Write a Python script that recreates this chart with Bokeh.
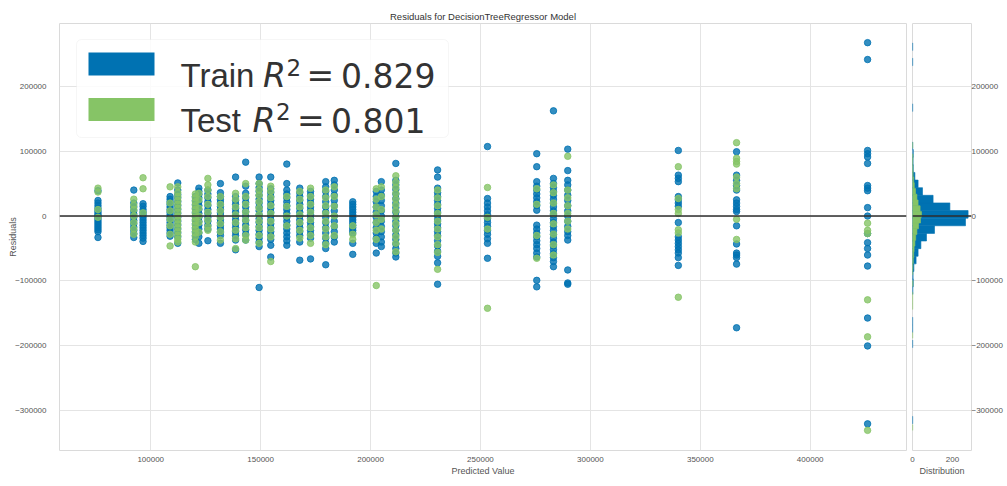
import numpy as np
from bokeh.plotting import figure
from bokeh.layouts import row
from bokeh.models import Range1d, Span, Label, BoxAnnotation, FixedTicker, CustomJSTickFormatter
from bokeh.embed import file_html
from bokeh.resources import INLINE

# ---------------- data ----------------
title_text = "Residuals for DecisionTreeRegressor Model"
x_label = "Predicted Value"
y_label = "Residuals"
hist_label = "Distribution"
train_r2 = "0.829"
test_r2 = "0.801"

# predicted values of the tree leaves (one column of points each)
pred_values = [76000, 92300, 96500, 108800, 112300, 120300, 121900, 126000, 131700,
               138600, 143200, 149300, 154600, 161900, 167800, 172700, 179600, 183500,
               191900, 202600, 204900, 211500, 230500, 253200, 275600, 283200, 289700,
               340000, 366500, 426100]

# residuals per column, in thousands
train_resid_k = [
    [39, 24, 20, 16, 12, 8, 5, 2, 0, -3, -6, -9, -12, -15, -18, -21, -24, -33],
    [40, 20, 14, 8, 3, -2, -7, -12, -17, -22, -27, -33],
    [19, 15, 10, 6, 2, -2, -6, -10, -14, -18, -22, -26, -30, -34, -39],
    [30, 26, 22, 18, 14, 10, 6, 2, -2, -6, -10, -14, -18, -22, -26, -31],
    [51, 40, 33, 28, 22, 16, 10, 4, -2, -8, -14, -20, -26, -32, -42],
    [30, 24, 18, 12, 6, 0, -6, -12, -18, -24, -30, -36],
    [43, 38, 33, 28, 22, 16, 10, 4, -2, -8, -14, -20, -26, -32, -42],
    [40, 34, 28, 22, 16, 10, 4, -2, -8, -14, -20, -38],
    [50, 36, 30, 25, 20, 15, 10, 5, 0, -5, -10, -15, -20, -25, -30, -42],
    [60, 30, 24, 18, 12, 6, 0, -6, -12, -18, -24, -30, -37, -52],
    [83, 46, 35, 28, 21, 14, 7, 0, -7, -14, -21, -28, -37],
    [60, 50, 44, 38, 32, 26, 20, 14, 8, 2, -4, -10, -16, -22, -28, -34, -40, -47, -110],
    [60, 42, 36, 30, 24, 18, 12, 6, 0, -6, -12, -18, -24, -30, -36, -45, -63],
    [80, 50, 40, 34, 28, 22, 16, 10, 4, -2, -8, -14, -20, -26, -32, -38, -45],
    [43, 36, 30, 24, 18, 12, 6, 0, -6, -12, -18, -24, -30, -40, -68],
    [38, 32, 26, 20, 14, 8, 2, -4, -10, -16, -22, -28, -34, -66],
    [53, 45, 38, 30, 22, 14, 6, -2, -10, -18, -26, -34, -42, -50, -75],
    [55, 48, 40, 32, 24, 16, 8, 0, -8, -16, -24, -32, -40],
    [22, 18, 14, 10, 6, 2, -2, -6, -10, -14, -18, -22, -26, -42, -59],
    [38, 30, 22, 14, 6, -2, -10, -18, -26, -34, -42, -57],
    [53, 40, 32, 24, 16, 8, 0, -8, -16, -24, -32, -40, -47],
    [81, 55, 48, 41, 34, 27, 20, 13, 6, -1, -8, -15, -22, -29, -36, -43, -50, -57, -63],
    [71, 60, 43, 36, 30, 24, 18, 12, 6, 0, -6, -12, -18, -24, -30, -38, -46, -54, -62, -72, -105],
    [107, 27, 20, 14, 8, 2, -4, -10, -16, -22, -28, -35, -42, -65],
    [96, 76, 53, 46, 40, 34, 28, 22, 16, 9, -14, -20, -26, -32, -38, -44, -50, -57, -63, -99, -109],
    [162, 58, 50, 44, 38, 32, 26, 20, 14, 8, 2, -4, -10, -16, -22, -28, -34, -40, -46, -52, -58, -64, -70, -78],
    [103, 70, 55, 48, 40, 32, 24, 16, 8, 0, -8, -16, -24, -30, -37, -83, -103, -105],
    [101, 63, 58, 53, 30, 25, 20, 15, -10, -32, -37, -42, -47, -52, -57, -64, -76],
    [99, 63, 55, 47, 40, 25, 20, 15, 10, 7, -15, -43, -57, -60, -64, -74, -172],
    [267, 241, 101, 96, 91, 81, 47, 43, 39, 13, 0, -27, -41, -50, -60, -77, -157, -200, -320],
]
test_resid_k = [
    [43, 37, 10, -2],
    [26, 17, 10, 0, -10, -20, -28],
    [59, 42, 5],
    [45, 20, 8, -5, -15, -28, -46],
    [45, 36, 30, 24, 18, 12, 6, 0, -6, -12, -18, -24, -30, -36, -40],
    [34, 28, 22, 16, 10, 4, -2, -8, -14, -20, -26, -32, -40, -78],
    [35, 25, 12, 0, -10, -25],
    [58, 48, 40, 30, 18, 6, -6, -16, -22],
    [30, 18, 8, -2, -12, -24, -37],
    [35, 26, 14, 2, -10, -22, -35, -50],
    [50, 30, 18, 6, -6, -18, -30, -37],
    [50, 40, 32, 22, 12, 2, -8, -18, -30, -42],
    [46, 38, 28, 16, 4, -8, -20, -32, -70],
    [30, 15, 0, -15],
    [38, 26, 14, 2, -10, -22, -34],
    [43, 30, 18, 6, -6, -18, -30, -42],
    [40, 28, 16, 4, -8, -20, -32, -44],
    [45, 30, 15, 0, -15, -30],
    [-15, -28, -36],
    [42, 26, 14, 2, -10, -22, -36, -107],
    [45, 30, 10, -5, -20],
    [62, 52, 44, 35, 26, 17, 8, -2, -12, -22, -32, -42, -55],
    [40, 28, 16, 4, -8, -20, -32, -44, -56, -82],
    [44, -2, -20, -142],
    [42, 18, -30, -65],
    [48, 36, 20, 4, -12, -28, -44, -60],
    [92, 40, 28, 16, 4, -8, -20],
    [76, 27, 10, 4, -21, -26, -125],
    [113, 89, 84, 80, 60, 50, 42, -5, -36],
    [-11, -22, -27, -129, -186, -330],
]

# histogram of residuals (50 bins over each set's range)
train_hist_range = (-320000, 266600)
train_hist_counts = [1, 0, 0, 0, 0, 0, 0, 0, 0, 0,
                     1, 0, 1, 1, 0, 0, 0, 2, 4, 3,
                     7, 18, 28, 42, 70, 110, 265, 278, 187, 103,
                     50, 28, 12, 4, 3, 4, 1, 0, 0, 0,
                     0, 1, 0, 0, 0, 0, 0, 1, 0, 1]
test_hist_range = (-330000, 113400)
test_hist_counts = [1, 0, 0, 0, 0, 0, 0, 0, 0, 0,
                    0, 0, 0, 0, 0, 0, 1, 0, 0, 0,
                    0, 1, 1, 1, 0, 2, 0, 1, 2, 4,
                    6, 8, 12, 16, 22, 30, 40, 45, 38, 28,
                    22, 15, 9, 6, 3, 2, 1, 2, 0, 1]

x_ticks = [100000, 150000, 200000, 250000, 300000, 350000, 400000]
y_ticks = [-300000, -200000, -100000, 0, 100000, 200000]
dist_ticks = [0, 200]

# ---------------- build ----------------
TRAIN = "#0072B2"
TEST = "#86C466"
TXT = "#555555"
FONT = "Liberation Sans"
MATH = "DejaVu Sans"

tx = np.concatenate([[v] * len(r) for v, r in zip(pred_values, train_resid_k)])
ty = np.concatenate([np.array(r, dtype=float) * 1000 for r in train_resid_k])
ex = np.concatenate([[v] * len(r) for v, r in zip(pred_values, test_resid_k)])
ey = np.concatenate([np.array(r, dtype=float) * 1000 for r in test_resid_k])

X0, X1 = 58500, 443800
Y0, Y1 = -361000, 296500
FX, FY, FW, FH = 59, 23, 847, 427

fmt = CustomJSTickFormatter(code="return tick < 0 ? '\\u2212' + Math.abs(tick).toFixed(0) : tick.toFixed(0);")

p = figure(frame_width=FW, frame_height=FH, x_range=Range1d(X0, X1), y_range=Range1d(Y0, Y1),
           output_backend="svg", toolbar_location=None, title=title_text,
           min_border_left=FX, min_border_right=2, min_border_top=FY, min_border_bottom=28)
p.title.align = "center"
p.title.text_font = FONT
p.title.text_font_size = "9.5px"
p.title.text_font_style = "normal"
p.title.text_color = "#333333"
p.title.standoff = 3

h = figure(frame_width=59, frame_height=FH, x_range=Range1d(0, 295), y_range=p.y_range,
           y_axis_location="right", output_backend="svg", toolbar_location=None,
           min_border_left=4, min_border_right=0, min_border_top=FY, min_border_bottom=28)

for fig in (p, h):
    fig.background_fill_color = "white"
    fig.border_fill_color = "white"
    fig.outline_line_color = "#dadada"
    fig.outline_line_width = 1
    fig.grid.grid_line_color = "#e4e4e4"
    fig.grid.grid_line_width = 1
    fig.axis.axis_line_color = None
    fig.axis.major_tick_line_color = None
    fig.axis.minor_tick_line_color = None
    fig.axis.major_label_text_font = FONT
    fig.axis.major_label_text_font_size = "8px"
    fig.axis.major_label_text_color = TXT
    fig.axis.axis_label_text_font = FONT
    fig.axis.axis_label_text_font_size = "9px"
    fig.axis.axis_label_text_font_style = "normal"
    fig.axis.axis_label_text_color = TXT
    fig.xaxis.major_label_standoff = 0
    fig.xaxis.axis_label_standoff = 1
    fig.yaxis.formatter = fmt
    fig.yaxis.ticker = FixedTicker(ticks=y_ticks)

p.xaxis.ticker = FixedTicker(ticks=x_ticks)
p.xaxis.formatter = fmt
p.xaxis.axis_label = x_label
p.yaxis.axis_label = y_label
p.yaxis.major_label_standoff = 7
p.yaxis.axis_label_standoff = -6

h.xaxis.ticker = FixedTicker(ticks=dist_ticks)
h.xaxis.axis_label = hist_label
h.xgrid.grid_line_color = None
h.yaxis.major_label_standoff = -6

# scatter: train then test
p.scatter(tx, ty, size=6.5, fill_color=TRAIN, line_color=TRAIN, fill_alpha=0.8, line_alpha=0.8)
p.scatter(ex, ey, size=6.5, fill_color=TEST, line_color=TEST, fill_alpha=0.8, line_alpha=0.8)

# histograms
def draw_hist(rng, counts, color):
    edges = np.linspace(rng[0], rng[1], len(counts) + 1)
    c = np.array(counts, dtype=float)
    m = c > 0
    h.quad(left=0, right=c[m], bottom=edges[:-1][m], top=edges[1:][m],
           fill_color=color, line_color=color, line_width=0.6)

draw_hist(train_hist_range, train_hist_counts, TRAIN)
draw_hist(test_hist_range, test_hist_counts, TEST)

for fig in (p, h):
    fig.add_layout(Span(location=0, dimension="width", line_color="#2e2e2e", line_width=1.6))

# legend (drawn by hand)
def dx(px):
    return X0 + (px - FX) / FW * (X1 - X0)

def dy(py):
    return Y1 - (py - FY) / FH * (Y1 - Y0)

p.add_layout(BoxAnnotation(left=dx(76), right=dx(448), top=dy(39), bottom=dy(137),
                           fill_color="white", fill_alpha=0.85, line_color="#e2e2e2",
                           line_width=1, border_radius=5))
p.add_layout(BoxAnnotation(left=dx(88), right=dx(154), top=dy(52), bottom=dy(75),
                           fill_color=TRAIN, fill_alpha=1, line_color=None))
p.add_layout(BoxAnnotation(left=dx(88), right=dx(154), top=dy(97.5), bottom=dy(120.5),
                           fill_color=TEST, fill_alpha=1, line_color=None))

def lab(px, py, text, font, size, style="normal"):
    p.add_layout(Label(x=dx(px), y=dy(py), text=text, text_font=font, text_font_size=size,
                       text_font_style=style, text_color="#333333",
                       text_baseline="alphabetic", text_align="left"))

for name, r2, base, xr, x2, xeq, xnum in (("Train", train_r2, 75, 262.5, 286, 306, 340.5),
                                          ("Test", test_r2, 119.5, 252, 275.5, 296.5, 330.5)):
    lab(180, base, name, FONT, "33px")
    lab(xr, base, "R", MATH, "33px", "italic")
    lab(x2, base - 8.5, "2", MATH, "23px")
    lab(xeq, base, "=", MATH, "33px")
    lab(xnum, base, r2, MATH, "33px")

layout = row(p, h)
open("out.html", "w").write(file_html(layout, INLINE))
